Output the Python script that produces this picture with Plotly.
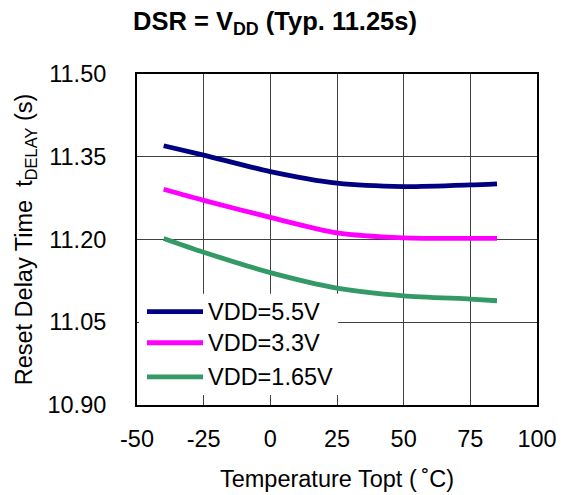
import plotly.graph_objects as go

# Temperature points (°C)
temps = [-40, -25, 0, 25, 50, 75, 85]

# Reset delay time (s) for each supply voltage
vdd_5v5 = [11.370, 11.353, 11.323, 11.302, 11.296, 11.299, 11.301]
vdd_3v3 = [11.291, 11.271, 11.240, 11.212, 11.203, 11.202, 11.202]
vdd_1v65 = [11.202, 11.177, 11.140, 11.112, 11.098, 11.092, 11.089]

series_names = ["VDD=5.5V", "VDD=3.3V", "VDD=1.65V"]
series_values = [vdd_5v5, vdd_3v3, vdd_1v65]
series_colors = ["#000080", "#FF00FF", "#339966"]

x_ticks = [-50, -25, 0, 25, 50, 75, 100]
y_ticks = [10.90, 11.05, 11.20, 11.35, 11.50]

FONT = "Arial, Liberation Sans, sans-serif"
FS = 23.5

fig = go.Figure()
for name, vals, color in zip(series_names, series_values, series_colors):
    fig.add_trace(go.Scatter(
        x=temps, y=vals, name=name, mode="lines",
        line=dict(color=color, width=4.8, shape="spline", smoothing=0.7),
        showlegend=False,
    ))

# Legend panel: white box with long line keys
shapes = [dict(type="rect", xref="paper", yref="paper",
               x0=0.005, x1=0.503, y0=0.03, y1=0.336,
               fillcolor="white", line=dict(width=0), layer="above")]
annotations = []
key_y = [0.282, 0.188, 0.085]
for name, color, ky in zip(series_names, series_colors, key_y):
    shapes.append(dict(type="line", xref="paper", yref="paper",
                       x0=0.025, x1=0.165, y0=ky, y1=ky,
                       line=dict(color=color, width=4.8), layer="above"))
    annotations.append(dict(xref="paper", yref="paper", x=0.172, y=ky,
                            text=name, showarrow=False, xanchor="left",
                            yanchor="middle",
                            font=dict(family=FONT, size=FS, color="black")))

fig.update_layout(
    width=566, height=495, autosize=False,
    margin=dict(l=137, r=29, t=74, b=90),
    paper_bgcolor="white", plot_bgcolor="white",
    font=dict(family=FONT, size=FS, color="black"),
    title=dict(text="<b>DSR = V<sub>DD</sub> (Typ. 11.25s)</b>",
               x=275 / 566, xanchor="center", xref="container",
               y=1 - 21 / 495, yref="container", yanchor="middle",
               font=dict(family=FONT, size=25.5, color="black")),
    shapes=shapes,
    annotations=annotations,
)

fig.update_xaxes(
    range=[-50, 100], tickvals=x_ticks, ticktext=[str(v) for v in x_ticks],
    showgrid=True, gridcolor="#404040", gridwidth=1,
    showline=True, linecolor="black", linewidth=2, mirror=True,
    zeroline=False, ticks="", ticklabelstandoff=12, automargin=False,
    title=dict(text="Temperature Topt (\u2009\u02daC)", standoff=19,
               font=dict(family=FONT, size=FS)),
    tickfont=dict(family=FONT, size=FS),
)
fig.update_yaxes(
    range=[10.90, 11.50], tickvals=y_ticks,
    ticktext=[f"{v:.2f}" for v in y_ticks],
    showgrid=True, gridcolor="#404040", gridwidth=1,
    showline=True, linecolor="black", linewidth=2, mirror=True,
    zeroline=False, ticks="", ticklabelstandoff=24, automargin=False,
    title=dict(text="Reset Delay Time\u00a0\u00a0t<sub>DELAY</sub> (s)",
               standoff=8, font=dict(family=FONT, size=FS)),
    tickfont=dict(family=FONT, size=FS),
)

fig.write_html("out.html")
